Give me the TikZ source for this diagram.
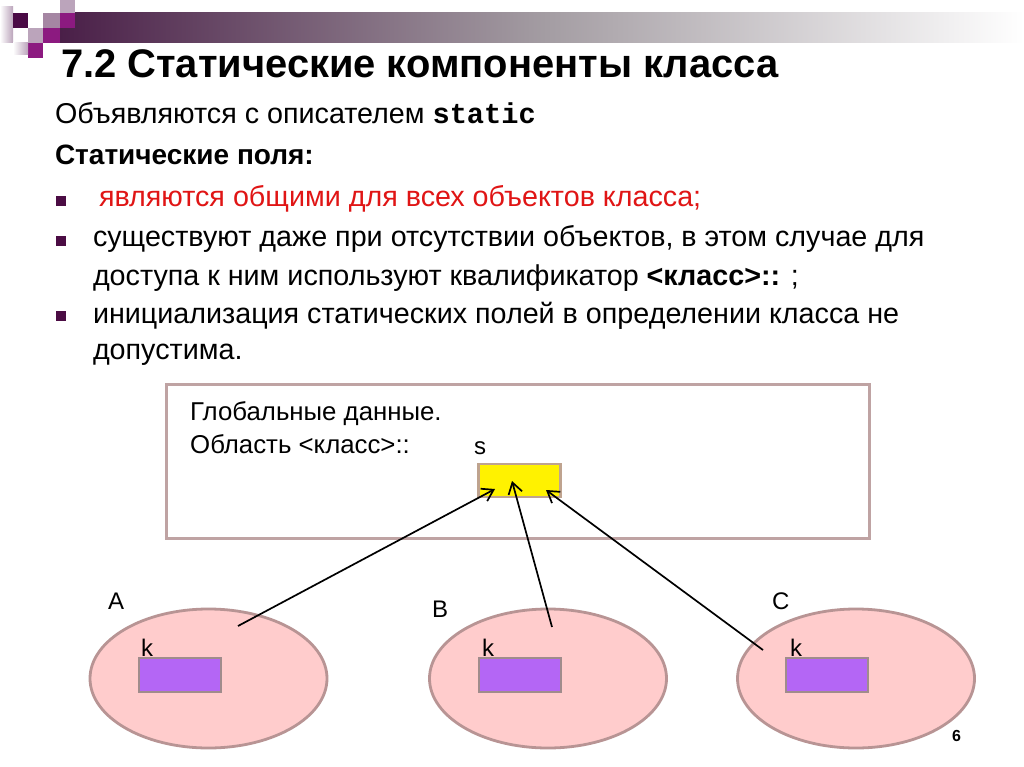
\documentclass[tikz,border=0pt]{standalone}
\usepackage{fontspec}
\setmainfont{Liberation Sans}
\setmonofont{Liberation Mono}
\usetikzlibrary{shapes.geometric,arrows.meta}
\definecolor{bulletc}{HTML}{4B0C44}
\definecolor{redtxt}{HTML}{E01515}
\definecolor{boxedge}{HTML}{BFA3A3}
\definecolor{ellfill}{HTML}{FFCCCC}
\definecolor{elledge}{HTML}{B89494}
\definecolor{kfill}{HTML}{B466F5}
\definecolor{kedge}{HTML}{A08C8C}
\definecolor{sedge}{HTML}{BFA38F}
\definecolor{plum}{HTML}{4A1F48}
\definecolor{midgray}{HTML}{A39CA2}
\definecolor{sqdark}{HTML}{4A0A45}
\definecolor{sqmag}{HTML}{8C1A80}
\definecolor{sqlight}{HTML}{BBA4BB}
\definecolor{sqmid}{HTML}{A586A3}
\tikzset{
  txt/.style={anchor=base west, inner sep=0pt, outer sep=0pt},
  bodyf/.style={font=\fontsize{28.7}{34}\selectfont},
  bulletsq/.style={fill=bulletc, draw=none, minimum size=10pt, inner sep=0pt},
  obj/.style={ellipse, draw=elledge, line width=2.8pt, fill=ellfill, minimum width=237pt, minimum height=139pt, inner sep=0pt},
  kbox/.style={rectangle, draw=kedge, line width=2pt, fill=kfill, minimum width=82pt, minimum height=34pt, inner sep=0pt},
  lbl/.style={inner sep=0pt, font=\fontsize{24}{26}\selectfont, anchor=base west},
  ptr/.style={line width=1.7pt, -{Straight Barb[length=11pt,width=14pt,line width=1.7pt]}},
}
\begin{document}
\begin{tikzpicture}[x=1pt,y=-1pt]
\useasboundingbox (0,0) rectangle (1024,767);
\fill[white] (0,0) rectangle (1024,767);
% header decoration
\shade[left color=plum, right color=white, middle color=midgray, shading angle=90] (60,13) rectangle (1024,43);
\fill[left color=white, right color=sqlight] (0,7) rectangle (13,43);
\fill[sqlight] (60,0) rectangle (75,13);
\fill[sqdark] (13,13) rectangle (28,28);
\fill[sqmid] (43,13) rectangle (60,28);
\fill[sqmag] (60,13) rectangle (75,28);
\fill[sqlight] (28,28) rectangle (43,43);
\fill[sqmag] (43,28) rectangle (60,43);
\fill[sqmag] (28,43) rectangle (43,58);
\fill[left color=white, right color=sqlight] (13,43) rectangle (28,55);
% title
\node[txt, font=\fontsize{39.9}{44}\selectfont\bfseries] (title) at (61,78) {7.2 Статические компоненты класса};
% body text
\node[txt, bodyf] (decl) at (55,124) {Объявляются с описателем \texttt{\bfseries static}};
\node[txt, font=\fontsize{28}{34}\selectfont\bfseries] (sf) at (55,165) {Статические поля:};
\node[bulletsq] (b1) at (61,201) {};
\node[txt, bodyf, text=redtxt] (t1) at (99,207) {являются общими для всех объектов класса;};
\node[bulletsq] (b2) at (61,241) {};
\node[txt, bodyf] (t2a) at (93,247) {существуют даже при отсутствии объектов, в этом случае для};
\node[txt, bodyf] (t2b) at (93,285) {доступа к ним используют квалификатор \textbf{<класс>::} ;};
\node[bulletsq] (b3) at (61,316) {};
\node[txt, bodyf] (t3a) at (93,323) {инициализация статических полей в определении класса не};
\node[txt, bodyf] (t3b) at (93,359) {допустима.};
% global box
\node[rectangle, draw=boxedge, line width=2.8pt, minimum width=703pt, minimum height=154pt, inner sep=0pt, anchor=north west] (glob) at (165,383) {};
\node[lbl, font=\fontsize{25.8}{28}\selectfont] (g1) at (190,420) {Глобальные данные.};
\node[lbl, font=\fontsize{25.8}{28}\selectfont] (g2) at (190,453) {Область <класс>::};
\node[lbl] (slbl) at (474,454) {s};
\node[rectangle, draw=sedge, line width=2.2pt, fill=yellow, minimum width=82pt, minimum height=33pt, inner sep=0pt] (sbox) at (519.5,480.5) {};
% objects
\node[obj] (ea) at (208.5,678.5) {};
\node[obj] (eb) at (548,678.5) {};
\node[obj] (ec) at (856,678.5) {};
\node[kbox] (ka) at (180,675) {};
\node[kbox] (kb) at (520,675) {};
\node[kbox] (kc) at (827,675) {};
\node[lbl] (kla) at (141,656) {k};
\node[lbl] (klb) at (482,656) {k};
\node[lbl] (klc) at (790,656) {k};
\node[lbl] (la) at (108,609) {A};
\node[lbl] (lb) at (432,617) {B};
\node[lbl] (lc) at (772,609) {C};
% pointers
\coordinate (pa) at (238,626);
\coordinate (pb) at (552,627);
\coordinate (pc) at (763,650);
\coordinate (sa) at (495,489);
\coordinate (sb) at (512,481);
\coordinate (sc) at (546,490);
\draw[ptr] (pa) -- (sa);
\draw[ptr] (pb) -- (sb);
\draw[ptr] (pc) -- (sc);
% page number
\node[txt, font=\fontsize{16}{18}\selectfont\bfseries] (pg) at (952,741) {6};
\end{tikzpicture}
\end{document}
